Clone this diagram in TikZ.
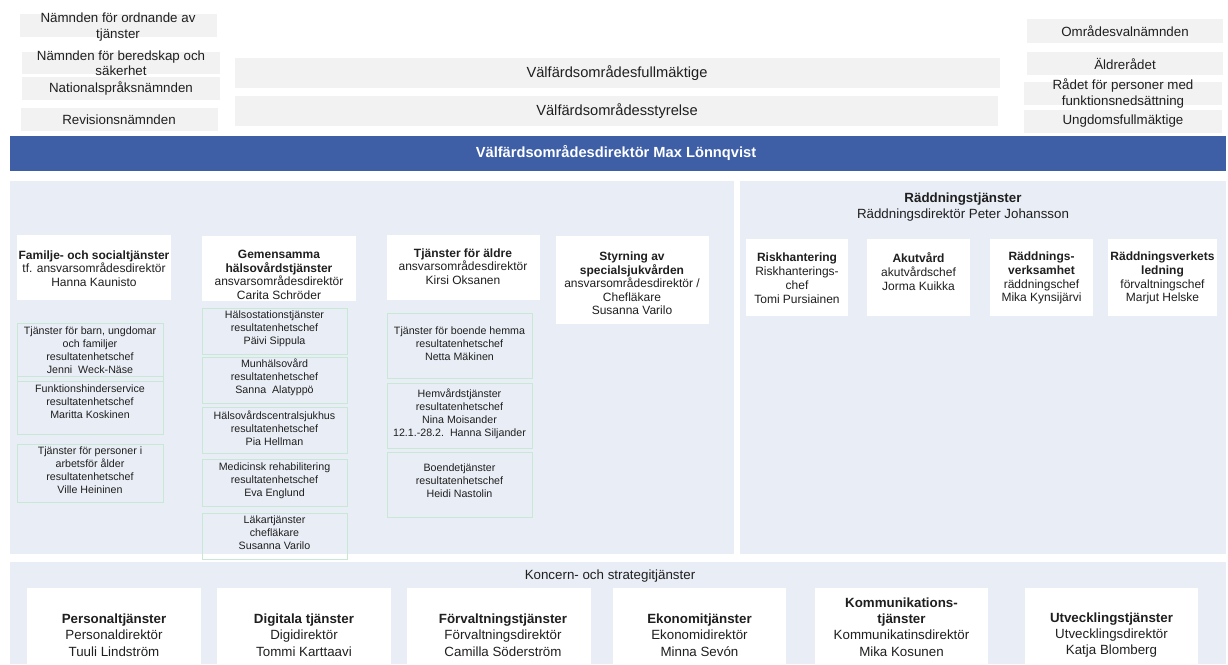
\documentclass[tikz,border=0pt]{standalone}
\usepackage{fontspec}
\setmainfont{Liberation Sans}
\usetikzlibrary{fit}
\definecolor{topgray}{HTML}{F2F2F2}
\definecolor{barblue}{HTML}{3E5FA6}
\definecolor{panelbg}{HTML}{E9EDF5}
\definecolor{subgreen}{HTML}{C6E8D4}
\definecolor{txtcol}{HTML}{1F1F1F}
\tikzset{
  rectbox/.style={inner sep=0pt, outer sep=0pt, draw=none},
  topbox/.style={rectbox, fill=topgray},
  panelbox/.style={rectbox, fill=panelbg},
  whitebox/.style={rectbox, fill=white},
  subbox/.style={rectbox, draw=subgreen, line width=0.6pt},
  barbox/.style={rectbox, fill=barblue},
  tx/.style={inner sep=0pt, align=center, text=txtcol},
  toptxt/.style={tx, font=\fontsize{10}{12}\selectfont},
  bigtxt/.style={tx, font=\fontsize{11}{13}\selectfont},
  bartxt/.style={inner sep=0pt, text=white, font=\bfseries\fontsize{11}{13}\selectfont},
  headtxt/.style={tx, font=\fontsize{9}{10.1}\selectfont},
  subtxt/.style={tx, font=\fontsize{8}{9.75}\selectfont},
  rtxt/.style={tx, font=\fontsize{9}{10.4}\selectfont},
  bottxt/.style={tx, font=\fontsize{10}{12.3}\selectfont},
}
\begin{document}
\begin{tikzpicture}[x=0.75pt,y=-0.75pt]
\useasboundingbox (0,0) rectangle (1228,664);
\fill[white] (0,0) rectangle (1228,664);

% top left boards
\node[topbox, fit={(20,14) (217,37)}] (l1) {};
\node[toptxt] (l1t) at (118,27) {Nämnden för ordnande av\\tjänster};
\node[topbox, fit={(22,52) (220,74)}] (l2) {};
\node[toptxt, font=\fontsize{10}{11.4}\selectfont] (l2t) at (121,63.5) {Nämnden för beredskap och\\säkerhet};
\node[topbox, fit={(22,77) (220,100)}] (l3) {};
\node[toptxt] (l3t) at (121,89) {Nationalspråksnämnden};
\node[topbox, fit={(21,108) (218,131)}] (l4) {};
\node[toptxt] (l4t) at (119,120) {Revisionsnämnden};

% centre
\node[topbox, fit={(235,58) (1000,88)}] (fm) {};
\node[bigtxt] (fmt) at (617,73) {Välfärdsområdesfullmäktige};
\node[topbox, fit={(235,96) (998,126)}] (st) {};
\node[bigtxt] (stt) at (617,111) {Välfärdsområdesstyrelse};

% top right boards
\node[topbox, fit={(1027,19) (1223,43)}] (r1) {};
\node[toptxt] (r1t) at (1125,31) {Områdesvalnämnden};
\node[topbox, fit={(1027,52) (1223,75)}] (r2) {};
\node[toptxt] (r2t) at (1125,64) {Äldrerådet};
\node[topbox, fit={(1024,82) (1222,105)}] (r3) {};
\node[toptxt] (r3t) at (1123,94) {Rådet för personer med\\funktionsnedsättning};
\node[topbox, fit={(1024,110) (1222,133)}] (r4) {};
\node[toptxt] (r4t) at (1123,121) {Ungdomsfullmäktige};

% director bar
\node[barbox, fit={(10,136) (1226,171)}] (bar) {};
\node[bartxt] (bart) at (616,153) {Välfärdsområdesdirektör Max Lönnqvist};

% panels
\node[panelbox, fit={(10,181) (734,554)}] (pl) {};
\node[panelbox, fit={(740,181) (1226,554)}] (pr) {};
\node[panelbox, fit={(10,562) (1226,664)}] (pb) {};

% column heads
\node[whitebox, fit={(17,235) (171,300)}] (h1) {};
\node[headtxt] (h1t) at (94,268.5) {\textbf{Familje- och socialtjänster}\\tf. ansvarsområdesdirektör\\Hanna Kaunisto};
\node[whitebox, fit={(202,236) (356,301)}] (h2) {};
\node[headtxt] (h2t) at (279,275) {\textbf{Gemensamma}\\\textbf{hälsovårdstjänster}\\ansvarsområdesdirektör\\Carita Schröder};
\node[whitebox, fit={(387,235) (540,300)}] (h3) {};
\node[headtxt] (h3t) at (463,266.5) {\textbf{Tjänster för äldre}\\ansvarsområdesdirektör\\Kirsi Oksanen};
\node[whitebox, fit={(556,236) (709,324)}] (h4) {};
\node[headtxt] (h4t) at (632,283.5) {\textbf{Styrning av}\\\textbf{specialsjukvården}\\ansvarsområdesdirektör /\\Chefläkare\\Susanna Varilo};

% column 1 units
\node[subbox, fit={(17,323) (163,381)}] (a1) {};
\node[subtxt] (a1t) at (90,350.5) {Tjänster för barn, ungdomar\\och familjer\\resultatenhetschef\\Jenni\ \ Weck-Näse};
\node[subbox, fit={(17,376) (163,434)}] (a2) {};
\node[subtxt] (a2t) at (90,402) {Funktionshinderservice\\resultatenhetschef\\Maritta Koskinen};
\node[subbox, fit={(17,444) (163,502)}] (a3) {};
\node[subtxt] (a3t) at (90,470) {Tjänster för personer i\\arbetsför ålder\\resultatenhetschef\\Ville Heininen};

% column 2 units
\node[subbox, fit={(202,308) (347,354)}] (b1) {};
\node[subtxt] (b1t) at (274.5,329) {Hälsostationstjänster\\resultatenhetschef\\Päivi Sippula};
\node[subbox, fit={(202,357) (347,403)}] (b2) {};
\node[subtxt] (b2t) at (274.5,377) {Munhälsovård\\resultatenhetschef\\Sanna\ \ Alatyppö};
\node[subbox, fit={(202,407) (347,453)}] (b3) {};
\node[subtxt] (b3t) at (274.5,428) {Hälsovårdscentralsjukhus\\resultatenhetschef\\Pia Hellman};
\node[subbox, fit={(202,459) (347,506)}] (b4) {};
\node[subtxt] (b4t) at (274.5,480.5) {Medicinsk rehabilitering\\resultatenhetschef\\Eva Englund};
\node[subbox, fit={(202,513) (347,559)}] (b5) {};
\node[subtxt] (b5t) at (274.5,533) {Läkartjänster\\chefläkare\\Susanna Varilo};

% column 3 units
\node[subbox, fit={(387,313) (532,378)}] (c1) {};
\node[subtxt] (c1t) at (459.5,343.5) {Tjänster för boende hemma\\resultatenhetschef\\Netta Mäkinen};
\node[subbox, fit={(387,383) (532,448)}] (c2) {};
\node[subtxt] (c2t) at (459.5,413.5) {Hemvårdstjänster\\resultatenhetschef\\Nina Moisander\\12.1.-28.2.\ \ Hanna Siljander};
\node[subbox, fit={(387,452) (532,517)}] (c3) {};
\node[subtxt] (c3t) at (459.5,481) {Boendetjänster\\resultatenhetschef\\Heidi Nastolin};

% rescue services
\node[tx, font=\fontsize{10}{12}\selectfont] (rdt) at (963,207) {\textbf{Räddningstjänster}\\Räddningsdirektör Peter Johansson};
\node[whitebox, fit={(746,239) (848,316)}] (d1) {};
\node[rtxt] (d1t) at (797,278) {\textbf{Riskhantering}\\Riskhanterings-\\chef\\Tomi Pursiainen};
\node[whitebox, fit={(867,239) (970,316)}] (d2) {};
\node[rtxt] (d2t) at (918.5,271.5) {\textbf{Akutvård}\\akutvårdschef\\Jorma Kuikka};
\node[whitebox, fit={(990,239) (1093,316)}] (d3) {};
\node[rtxt] (d3t) at (1041.5,278) {\textbf{Räddnings-}\\\textbf{verksamhet}\\räddningschef\\Mika Kynsijärvi};
\node[whitebox, fit={(1108,239) (1217,316)}] (d4) {};
\node[rtxt] (d4t) at (1162.5,278) {\textbf{Räddningsverkets}\\\textbf{ledning}\\förvaltningschef\\Marjut Helske};

% group services
\node[tx, font=\fontsize{10}{12}\selectfont] (kst) at (610,576) {Koncern- och strategitjänster};
\node[whitebox, fit={(27,588) (201,664)}] (e1) {};
\node[bottxt] (e1t) at (114,635) {\textbf{Personaltjänster}\\Personaldirektör\\Tuuli Lindström};
\node[whitebox, fit={(217,588) (391,664)}] (e2) {};
\node[bottxt] (e2t) at (304,635) {\textbf{Digitala tjänster}\\Digidirektör\\Tommi Karttaavi};
\node[whitebox, fit={(407,588) (591,664)}] (e3) {};
\node[bottxt] (e3t) at (503,635) {\textbf{Förvaltningstjänster}\\Förvaltningsdirektör\\Camilla Söderström};
\node[whitebox, fit={(613,588) (786,664)}] (e4) {};
\node[bottxt] (e4t) at (699.5,635) {\textbf{Ekonomitjänster}\\Ekonomidirektör\\Minna Sevón};
\node[whitebox, fit={(815,588) (988,664)}] (e5) {};
\node[bottxt] (e5t) at (901.5,627) {\textbf{Kommunikations-}\\\textbf{tjänster}\\Kommunikatinsdirektör\\Mika Kosunen};
\node[whitebox, fit={(1025,588) (1198,664)}] (e6) {};
\node[bottxt] (e6t) at (1111.5,635) {\textbf{Utvecklingstjänster}\\Utvecklingsdirektör\\Katja Blomberg};
\end{tikzpicture}
\end{document}
